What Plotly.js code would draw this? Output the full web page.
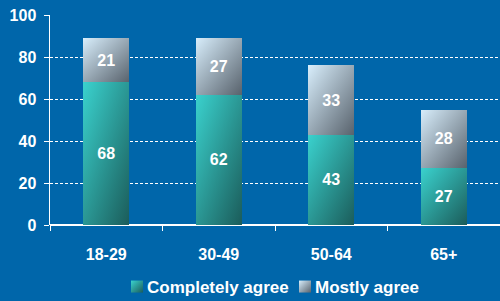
<!DOCTYPE html>
<html><head><meta charset="utf-8">
<script src="https://cdn.plot.ly/plotly-3.0.1.min.js"></script>
<style>html,body{margin:0;padding:0;background:#0066AA;}#chart{width:500px;height:301px;}</style>
</head><body><div id="chart"></div>
<script>
const categories = ['18-29', '30-49', '50-64', '65+'];
const completelyAgree = [68, 62, 43, 27];
const mostlyAgree = [21, 27, 33, 28];
const seriesNames = ['Completely agree', 'Mostly agree'];
const yTicks = [0, 20, 40, 60, 80, 100];

const font = {family: 'Arial, Liberation Sans, sans-serif', color: '#ffffff', size: 16, weight: 'bold'};

const traces = [
  {type: 'bar', name: seriesNames[0], x: categories, y: completelyAgree,
   text: completelyAgree.map(String), textposition: 'inside', insidetextanchor: 'middle',
   textfont: {family: font.family, color: '#fff', size: 16, weight: 'bold'},
   marker: {color: '#2aa8a4', line: {width: 0}}, hoverinfo: 'none'},
  {type: 'bar', name: seriesNames[1], x: categories, y: mostlyAgree,
   text: mostlyAgree.map(String), textposition: 'inside', insidetextanchor: 'middle',
   textfont: {family: font.family, color: '#fff', size: 16, weight: 'bold'},
   marker: {color: '#a0b4c4', line: {width: 0}}, hoverinfo: 'none'}
];

const layout = {
  width: 500, height: 301,
  paper_bgcolor: '#0066AA', plot_bgcolor: '#0066AA',
  margin: {l: 50, r: 0, t: 15, b: 76},
  barmode: 'stack', bargap: 0.59,
  font: font,
  showlegend: true,
  legend: {orientation: 'h', traceorder: 'normal', x: 0.5, xanchor: 'center',
           yref: 'container', y: 0.0465, yanchor: 'middle',
           font: {family: font.family, color: '#fff', size: 17, weight: 'bold'},
           itemwidth: 30, tracegroupgap: 0, bgcolor: 'rgba(0,0,0,0)'},
  xaxis: {showgrid: false, showline: false, zeroline: false, automargin: false,
          ticks: 'outside', tickson: 'boundaries', ticklen: 5, tickcolor: '#ffffff', tickwidth: 1,
          ticklabelstandoff: 18, tickfont: font, fixedrange: true},
  yaxis: {range: [0, 100], tickvals: yTicks, ticktext: yTicks.map(String), automargin: false,
          showgrid: true, gridcolor: '#ffffff', griddash: '3px,2px', gridwidth: 1,
          zeroline: true, zerolinecolor: '#ffffff', zerolinewidth: 2,
          showline: true, linecolor: '#ffffff', linewidth: 1.5,
          ticks: 'outside', ticklen: 5, tickcolor: '#ffffff', tickwidth: 1,
          ticklabelstandoff: 4, tickfont: font, fixedrange: true}
};

Plotly.newPlot('chart', traces, layout, {displayModeBar: false, staticPlot: true}).then(function(gd){
  const svg = gd.querySelector('svg.main-svg');
  const ns = 'http://www.w3.org/2000/svg';
  let defs = svg.querySelector('defs');
  if (!defs) { defs = document.createElementNS(ns, 'defs'); svg.insertBefore(defs, svg.firstChild); }
  function grad(id, c1, c2) {
    const g = document.createElementNS(ns, 'linearGradient');
    g.setAttribute('id', id);
    g.setAttribute('x1', '0'); g.setAttribute('y1', '0'); g.setAttribute('x2', '1'); g.setAttribute('y2', '1');
    const s1 = document.createElementNS(ns, 'stop'); s1.setAttribute('offset', '0'); s1.setAttribute('stop-color', c1);
    const s2 = document.createElementNS(ns, 'stop'); s2.setAttribute('offset', '1'); s2.setAttribute('stop-color', c2);
    g.appendChild(s1); g.appendChild(s2); defs.appendChild(g);
  }
  grad('gA', '#3ad2ce', '#1b5c5a');
  grad('gB', '#d8eefc', '#58626c');
  const ids = ['gA', 'gB'];
  gd.querySelectorAll('.barlayer .trace').forEach(function(t, i){
    t.querySelectorAll('.point path').forEach(function(p){ p.style.fill = 'url(#' + ids[i] + ')'; });
  });
  const sb = gd.querySelector('.legend .scrollbox');
  if (sb) sb.removeAttribute('clip-path');
  const targets = [131, 299];
  gd.querySelectorAll('.legend .traces').forEach(function(t, i){
    const p = t.querySelector('.legendpoints path');
    if (p) p.style.fill = 'url(#' + ids[i] + ')';
    const txt = t.querySelector('text.legendtext');
    if (txt) txt.setAttribute('x', 30);
    if (p) {
      const left = p.getBoundingClientRect().left;
      const dx = targets[i] - left;
      const tr = t.getAttribute('transform') || 'translate(0,0)';
      const m = tr.match(/translate\(\s*([-\d.]+)[ ,]+([-\d.]+)\s*\)/);
      const x0 = m ? parseFloat(m[1]) : 0, y0 = m ? parseFloat(m[2]) : 0;
      t.setAttribute('transform', 'translate(' + (x0 + dx) + ',' + y0 + ')');
    }
  });
});
</script></body></html>
